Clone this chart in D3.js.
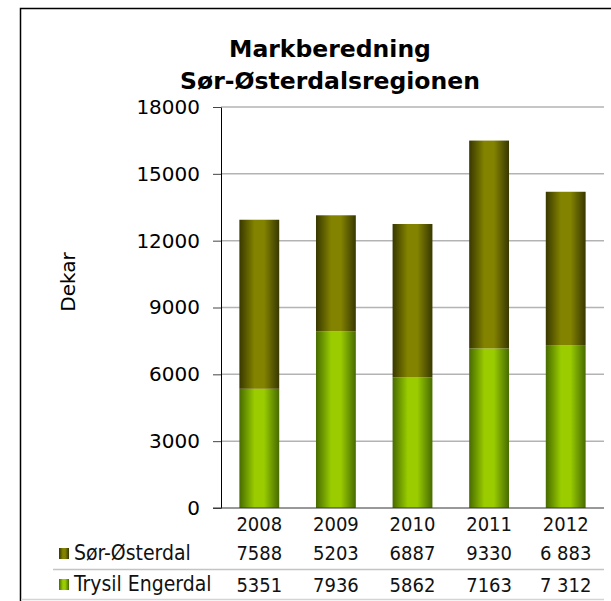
<!DOCTYPE html>
<html>
<head>
<meta charset="utf-8">
<title>Markberedning Sør-Østerdalsregionen</title>
<style>
  body { margin: 0; background: #fff; }
  svg { display: block; }
</style>
</head>
<body>
<script src="https://d3js.org/d3.v7.min.js"></script>
<script>
// data
var years = ["2008", "2009", "2010", "2011", "2012"];
var sorOsterdal = [7588, 5203, 6887, 9330, 6883];
var trysilEngerdal = [5351, 7936, 5862, 7163, 7312];
var sorLabels = ["7588", "5203", "6887", "9330", "6 883"];
var trysilLabels = ["5351", "7936", "5862", "7163", "7 312"];
var seriesNames = ["Sør-Østerdal", "Trysil Engerdal"];
var yTicks = [0, 3000, 6000, 9000, 12000, 15000, 18000];

const width = 611,
      height = 601,
      plot = { left: 221, right: 604, top: 107, bottom: 508 };

var svg = d3.select("body").append("svg")
    .attr("width", width)
    .attr("height", height);

var defs = svg.append("defs");
function grad(id, dark, light) {
  var g = defs.append("linearGradient").attr("id", id)
      .attr("x1", 0).attr("x2", 1).attr("y1", 0).attr("y2", 0);
  g.append("stop").attr("offset", "0%").attr("stop-color", dark);
  g.append("stop").attr("offset", "38%").attr("stop-color", light);
  g.append("stop").attr("offset", "62%").attr("stop-color", light);
  g.append("stop").attr("offset", "100%").attr("stop-color", dark);
}
grad("gOlive", "#383800", "#838300");
grad("gGreen", "#476b00", "#9acc00");

// frame
svg.append("rect")
    .attr("x", 20.5).attr("y", 8.5)
    .attr("width", 640).attr("height", 640)
    .attr("fill", "none").attr("stroke", "#000").attr("stroke-width", 1.5);

var x = d3.scaleBand()
    .domain(years)
    .range([plot.left, plot.right])
    .paddingInner(0.48)
    .paddingOuter(0.24);

var y = d3.scaleLinear()
    .domain([0, 18000])
    .range([plot.bottom, plot.top]);

// gridlines
svg.append("g").selectAll("line")
    .data(yTicks.filter(d => d > 0))
    .enter().append("line")
    .attr("x1", plot.left).attr("x2", plot.right)
    .attr("y1", d => y(d)).attr("y2", d => y(d))
    .attr("stroke", "#b3b3b3").attr("stroke-width", 1.5);

// y axis
var yAxis = svg.append("g")
    .attr("transform", `translate(${plot.left}, 0)`)
    .call(d3.axisLeft(y).tickValues(yTicks).tickFormat(d3.format("d"))
      .tickSize(8).tickPadding(13).tickSizeOuter(0));
yAxis.select(".domain").attr("stroke", "#000");
yAxis.selectAll(".tick line").attr("stroke", "#444");
yAxis.selectAll("text")
    .attr("font-family", "'DejaVu Sans', Verdana, sans-serif")
    .attr("font-size", "20px")
    .attr("fill", "#000");

// bars
var stackData = years.map((yr, i) => ({ year: yr, s: sorOsterdal[i], t: trysilEngerdal[i] }));

svg.append("g").selectAll("rect")
    .data(stackData)
    .enter().append("rect")
    .attr("x", d => x(d.year))
    .attr("width", x.bandwidth())
    .attr("y", d => y(d.t))
    .attr("height", d => y(0) - y(d.t))
    .attr("fill", "url(#gGreen)");

svg.append("g").selectAll("rect")
    .data(stackData)
    .enter().append("rect")
    .attr("x", d => x(d.year))
    .attr("width", x.bandwidth())
    .attr("y", d => y(d.t + d.s))
    .attr("height", d => y(d.t) - y(d.t + d.s))
    .attr("fill", "url(#gOlive)");

// baseline
svg.append("line")
    .attr("x1", 213).attr("x2", plot.right)
    .attr("y1", y(0)).attr("y2", y(0))
    .attr("stroke", "#333").attr("stroke-width", 1);

// data table
var tableFont = "'DejaVu Sans Condensed', Tahoma, 'DejaVu Sans', sans-serif";
var cx = d => x(d) + x.bandwidth() / 2;

function row(labels, yPos) {
  svg.append("g").selectAll("text")
      .data(labels)
      .enter().append("text")
      .attr("x", (d, i) => cx(years[i]))
      .attr("y", yPos)
      .attr("text-anchor", "middle")
      .attr("font-family", tableFont)
      .attr("font-stretch", "condensed")
      .attr("font-size", "20px")
      .attr("fill", "#111")
      .text(d => d);
}
row(years, 531);
row(sorLabels, 560);
row(trysilLabels, 592);

svg.append("line")
    .attr("x1", 53).attr("x2", plot.right)
    .attr("y1", 569.5).attr("y2", 569.5)
    .attr("stroke", "#c4c4c4").attr("stroke-width", 1.5);
svg.append("line")
    .attr("x1", 21).attr("x2", plot.right)
    .attr("y1", 599.5).attr("y2", 599.5)
    .attr("stroke", "#d4d4d4").attr("stroke-width", 1.5);

// legend keys in table
var keyY = [548, 579];
var keyFill = ["url(#gOlive)", "url(#gGreen)"];
seriesNames.forEach(function(name, i) {
  svg.append("rect")
      .attr("x", 59).attr("y", keyY[i])
      .attr("width", 10).attr("height", 11)
      .attr("fill", keyFill[i]);
  svg.append("text")
      .attr("x", 74).attr("y", keyY[i] + 12)
      .attr("font-family", tableFont)
      .attr("font-stretch", "condensed")
      .attr("font-size", "21px")
      .attr("fill", "#111")
      .text(name);
});

// title
var title = svg.append("text")
    .attr("text-anchor", "middle")
    .attr("font-family", "'DejaVu Sans', Verdana, sans-serif")
    .attr("font-weight", "bold")
    .attr("font-size", "23.5px")
    .attr("fill", "#000");
title.append("tspan").attr("x", 330).attr("y", 57).text("Markberedning");
title.append("tspan").attr("x", 330).attr("y", 89).text("Sør-Østerdalsregionen");

// y axis title
svg.append("text")
    .attr("text-anchor", "middle")
    .attr("transform", "translate(75, 282)rotate(-90)")
    .attr("font-family", "'DejaVu Sans', Verdana, sans-serif")
    .attr("font-size", "20px")
    .attr("fill", "#000")
    .text("Dekar");
</script>
</body>
</html>
